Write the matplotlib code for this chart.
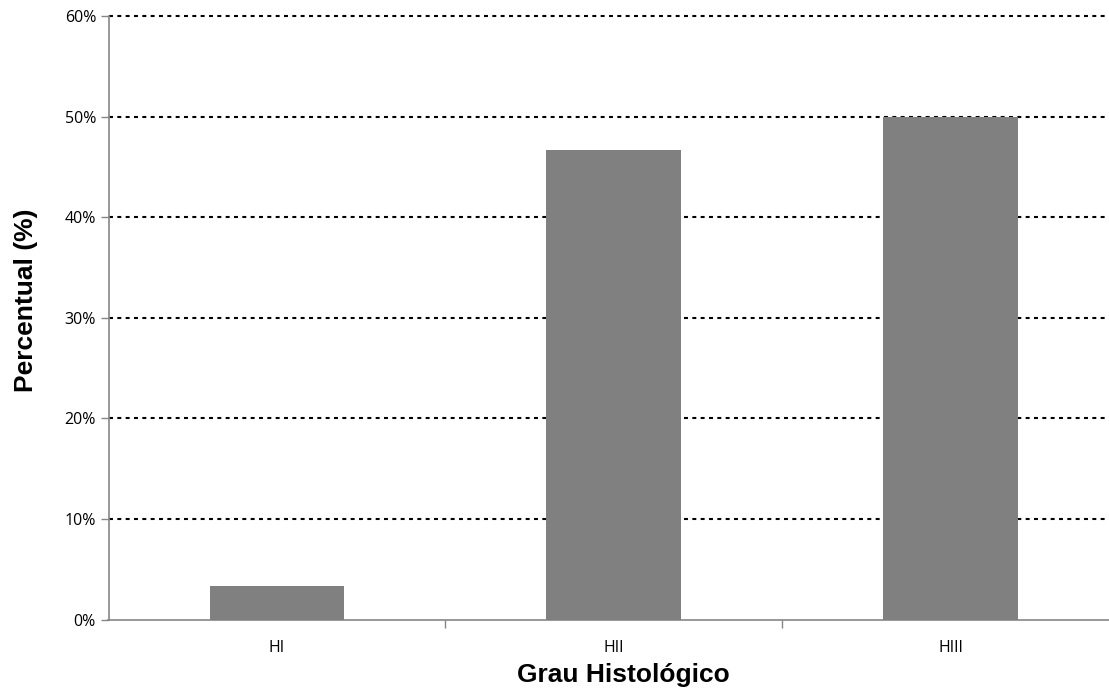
import matplotlib.pyplot as plt
from matplotlib.ticker import FuncFormatter, FixedLocator


# data
categorias = ["HI", "HII", "HIII"]
percentual = [3.33, 46.67, 50.0]
y_ticks = [0, 10, 20, 30, 40, 50, 60]

cinza = "#808080"
eixo = "#868686"

fig = plt.figure(figsize=(11.09, 6.95), dpi=100)
ax = fig.add_axes([108.5 / 1109, 75.5 / 695, (1119 - 108.5) / 1109, (619.5 - 16) / 695])

x = list(range(len(categorias)))
ax.bar(x, percentual, width=0.4, color=cinza, zorder=3)

ax.set_xlim(-0.5, len(categorias) - 0.5)
ax.set_ylim(0, 60)

# gridlines (dotted, black)
ax.set_yticks(y_ticks)
ax.yaxis.set_major_formatter(FuncFormatter(lambda v, p: f"{v:.0f}%"))
for v in y_ticks[1:]:
    ax.axhline(v, color="black", linewidth=1.5, linestyle=(0, (1.9, 2.1)), zorder=1, clip_on=False)

# x ticks: labels at centres, tick marks at boundaries
ax.set_xticks(x)
ax.set_xticklabels(categorias, fontsize=11.5, family="Open Sans")
ax.tick_params(axis="x", which="major", length=0, pad=15)
ax.xaxis.set_minor_locator(FixedLocator([0.5, 1.5]))
ax.tick_params(axis="x", which="minor", length=6, color=eixo, width=1)

ax.tick_params(axis="y", length=6, color=eixo, width=1, pad=3)
for lab in ax.get_yticklabels():
    lab.set_family("Open Sans")
    lab.set_fontsize(11.5)

for s in ["top", "right"]:
    ax.spines[s].set_visible(False)
for s in ["left", "bottom"]:
    ax.spines[s].set_color(eixo)
    ax.spines[s].set_linewidth(1.2)

ax.set_xlabel("Grau Histológico", fontsize=19, fontweight="bold", family="Liberation Sans")
ax.set_ylabel("Percentual (%)", fontsize=19, fontweight="bold", family="Liberation Sans")
ax.xaxis.label.set_verticalalignment("center")
ax.yaxis.label.set_verticalalignment("center")
ax.xaxis.set_label_coords(0.5 + 10 / 1010.5, (619.5 - 675) / 603.5)
ax.yaxis.set_label_coords((26 - 108.5) / 1010.5, (619.5 - 300) / 603.5)

fig.savefig("out.png", dpi=100)
